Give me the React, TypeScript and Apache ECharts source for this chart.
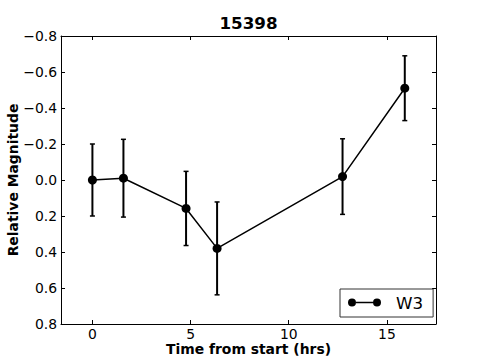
import React, { useEffect, useRef } from "react";
import * as echarts from "echarts";

const title = "15398";
const seriesName = "W3";
const times = [0.0, 1.58, 4.77, 6.35, 12.74, 15.91];
const mags = [0.0, -0.01, 0.158, 0.38, -0.019, -0.51];
const errs = [0.2, 0.216, 0.206, 0.258, 0.21, 0.18];
const xTicks = [0, 5, 10, 15];
const xRange = [-1.6, 17.5];
const yRange = [-0.8, 0.8];
const yStep = 0.2;

const FONT = "DejaVu Sans";

export default function App() {
  const ref = useRef<HTMLDivElement>(null);
  useEffect(() => {
    if (!ref.current) return;
    const chart = echarts.init(ref.current, null, { renderer: "svg" });
    const lineData = times.map((t, i) => [t, mags[i]]);
    const errData = times.map((t, i) => [t, mags[i], errs[i]]);
    const yFmt = (v: number) => {
      const r = Math.round(v * 10) / 10;
      if (Math.abs(r) < 1e-9) return "0.0";
      return (r < 0 ? "\u2212" : "") + Math.abs(r).toFixed(1);
    };
    const iconPath =
      "path://M0,4 a4,4 0 1,0 8,0 a4,4 0 1,0 -8,0 Z M25,4 a4,4 0 1,0 8,0 a4,4 0 1,0 -8,0 Z M8,3.25 L25,3.25 L25,4.75 L8,4.75 Z";
    const spine = { show: true, onZero: false, lineStyle: { color: "#000", width: 1 } };
    chart.setOption({
      animation: false,
      backgroundColor: "#fff",
      title: {
        text: title,
        left: 248.5,
        textAlign: "center",
        top: 14,
        padding: 0,
        textStyle: { fontFamily: FONT, fontWeight: "bold", fontSize: 16.7, color: "#000" },
      },
      grid: { left: 61, right: 49, top: 36, bottom: 36, containLabel: false, outerBoundsMode: "none" },
      legend: {
        data: [{ name: seriesName, icon: iconPath }],
        left: 340,
        top: 289,
        padding: [5, 10, 6, 8],
        itemWidth: 33,
        itemHeight: 8,
        borderColor: "#333",
        borderWidth: 1,
        backgroundColor: "#fff",
        selectedMode: false,
        textStyle: { fontFamily: FONT, fontSize: 16.7, color: "#000", padding: [0, 0, 0, 10] },
      },
      xAxis: [
        {
          type: "value",
          min: xRange[0],
          max: xRange[1],
          position: "bottom",
          name: "Time from start (hrs)",
          nameLocation: "middle",
          nameGap: 18,
          nameMoveOverlap: false,
          nameTextStyle: { fontFamily: FONT, fontWeight: "bold", fontSize: 13.9, lineHeight: 13, color: "#000" },
          axisLine: spine,
          axisTick: { show: true, inside: true, length: 4, customValues: xTicks, lineStyle: { color: "#000" } },
          axisLabel: { show: true, customValues: xTicks, margin: 3, lineHeight: 13, fontFamily: FONT, fontSize: 13.9, color: "#000" },
          splitLine: { show: false },
        },
        {
          type: "value",
          min: xRange[0],
          max: xRange[1],
          position: "top",
          axisLine: spine,
          axisTick: { show: true, inside: true, length: 4, customValues: xTicks, lineStyle: { color: "#000" } },
          axisLabel: { show: false },
          splitLine: { show: false },
        },
      ],
      yAxis: [
        {
          type: "value",
          inverse: true,
          min: yRange[0],
          max: yRange[1],
          interval: yStep,
          position: "left",
          name: "Relative Magnitude",
          nameLocation: "middle",
          nameGap: 41,
          nameMoveOverlap: false,
          nameRotate: 90,
          nameTextStyle: { fontFamily: FONT, fontWeight: "bold", fontSize: 13.9, color: "#000" },
          axisLine: spine,
          axisTick: { show: true, inside: true, length: 4, lineStyle: { color: "#000" } },
          axisLabel: { show: true, margin: 4, formatter: yFmt, fontFamily: FONT, fontSize: 13.9, color: "#000" },
          splitLine: { show: false },
        },
        {
          type: "value",
          inverse: true,
          min: yRange[0],
          max: yRange[1],
          interval: yStep,
          position: "right",
          axisLine: spine,
          axisTick: { show: true, inside: true, length: 4, lineStyle: { color: "#000" } },
          axisLabel: { show: false },
          splitLine: { show: false },
        },
      ],
      series: [
        {
          name: "errors",
          type: "custom",
          xAxisIndex: 0,
          yAxisIndex: 0,
          data: errData,
          z: 2,
          renderItem: (params: any, api: any) => {
            const x = api.value(0);
            const y = api.value(1);
            const e = api.value(2);
            const p1 = api.coord([x, y - e]);
            const p2 = api.coord([x, y + e]);
            const cw = 2.5;
            const style = { stroke: "#000", lineWidth: 2 };
            const capStyle = { stroke: "#000", lineWidth: 1.5 };
            return {
              type: "group",
              children: [
                { type: "line", shape: { x1: p1[0], y1: p1[1], x2: p2[0], y2: p2[1] }, style },
                { type: "line", shape: { x1: p1[0] - cw, y1: p1[1], x2: p1[0] + cw, y2: p1[1] }, style: capStyle },
                { type: "line", shape: { x1: p2[0] - cw, y1: p2[1], x2: p2[0] + cw, y2: p2[1] }, style: capStyle },
              ],
            };
          },
        },
        {
          name: seriesName,
          type: "line",
          xAxisIndex: 0,
          yAxisIndex: 0,
          data: lineData,
          z: 3,
          color: "#000",
          symbol: "circle",
          symbolSize: 9,
          lineStyle: { color: "#000", width: 1.5 },
          itemStyle: { color: "#000" },
        },
      ],
    });
    return () => chart.dispose();
  }, []);
  return <div ref={ref} style={{ width: 485, height: 360, position: "absolute", left: 0, top: 0 }} />;
}
